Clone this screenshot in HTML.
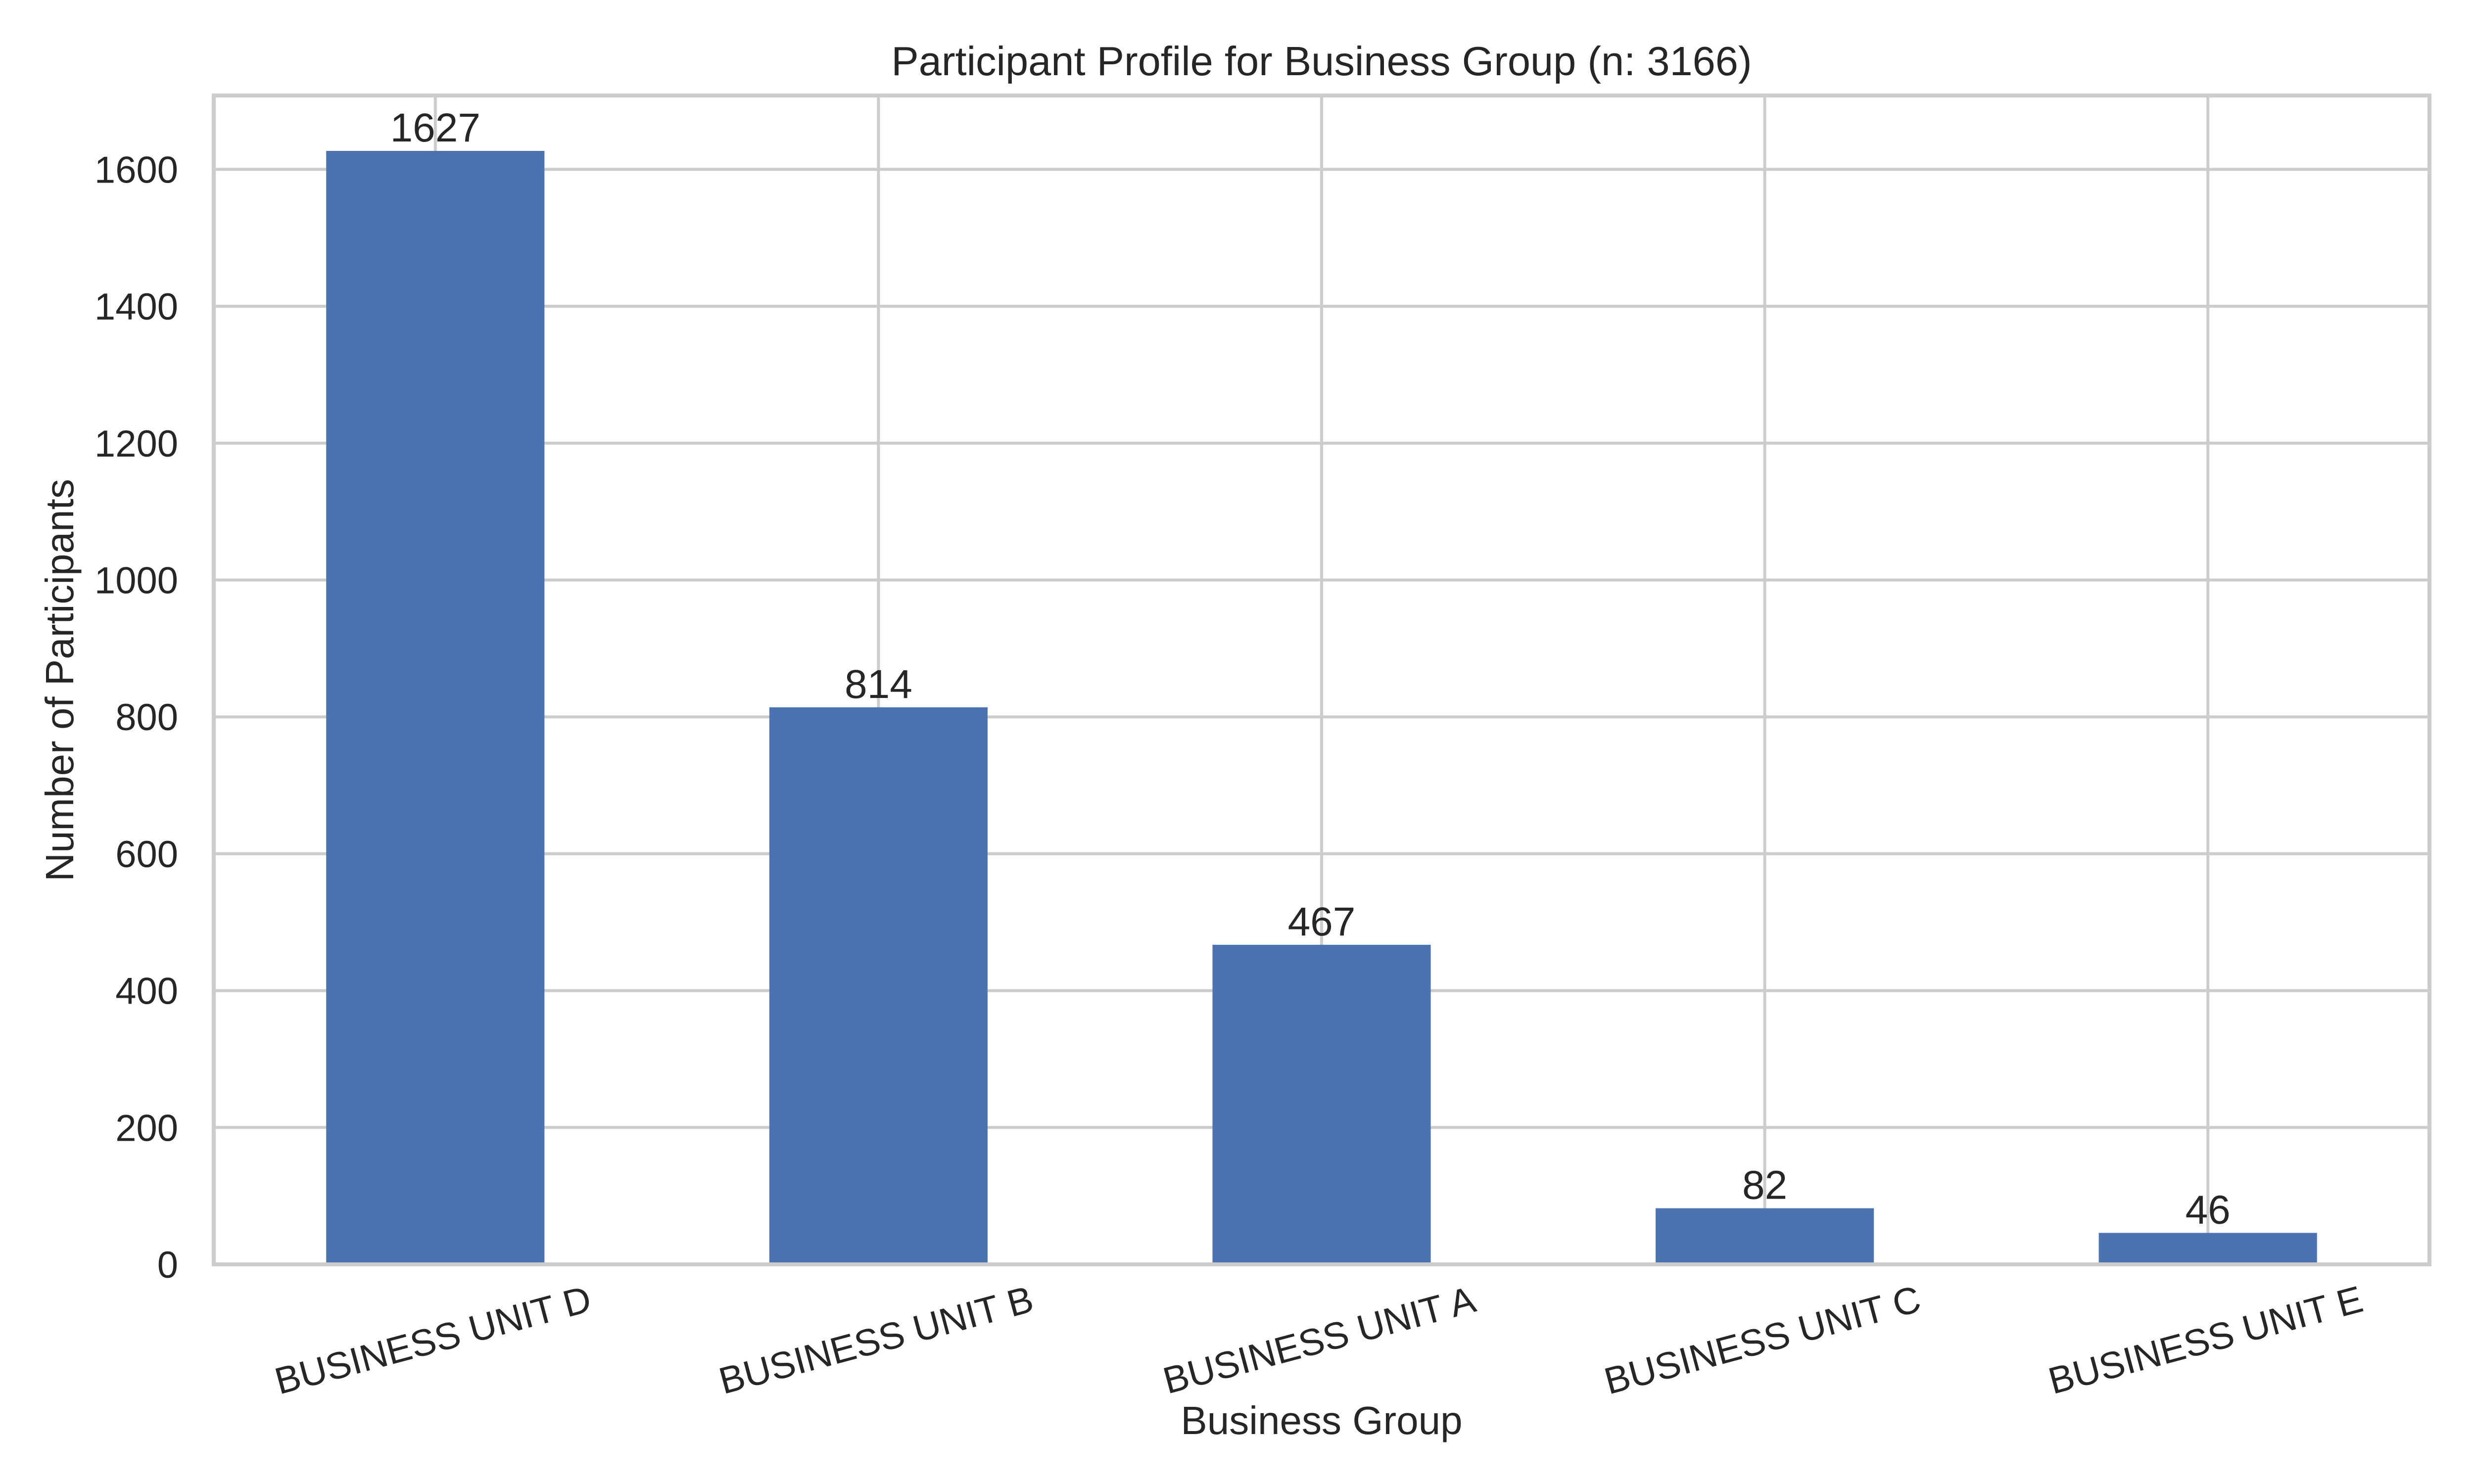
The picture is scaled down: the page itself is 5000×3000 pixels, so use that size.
<!DOCTYPE html>
<html><head><meta charset="utf-8"><style>
html,body{margin:0;padding:0;background:#fff}
svg{display:block}
text{font-family:"Liberation Sans",Arial,sans-serif;fill:#262626}
</style></head><body>
<svg id="chart" width="5000" height="3000" viewBox="0 0 5000 3000">
<rect x="0" y="0" width="5000" height="3000" fill="#fff"/>
<g id="grid"></g>
<g id="bars"></g>
<rect x="432" y="193" width="4478" height="2363" fill="none" stroke="#cccccc" stroke-width="8"/>
<g id="labels"></g>
<text x="2671" y="152" font-size="83" text-anchor="middle">Participant Profile for Business Group (n: 3166)</text>
<text x="2671" y="2899" font-size="80" text-anchor="middle">Business Group</text>
<text transform="translate(148,1375) rotate(-90)" x="0" y="0" font-size="80" text-anchor="middle">Number of Participants</text>
</svg>
<script>
const categories = ["BUSINESS UNIT D","BUSINESS UNIT B","BUSINESS UNIT A","BUSINESS UNIT C","BUSINESS UNIT E"];
const values = [1627, 814, 467, 82, 46];
const yTicks = [0, 200, 400, 600, 800, 1000, 1200, 1400, 1600];

const NS = "http://www.w3.org/2000/svg";
const plotL = 432, plotR = 4910, plotT = 193, plotB = 2556;
const yMax = 1708;
const n = categories.length;
const band = (plotR - plotL) / n;
function xScale(i){ return plotL + band * (i + 0.5); }
function yScale(v){ return plotB - (v / yMax) * (plotB - plotT); }
function mk(tag, attrs){ const e = document.createElementNS(NS, tag); for (const k in attrs) e.setAttribute(k, attrs[k]); return e; }

const grid = document.getElementById('grid');
const bars = document.getElementById('bars');
const labels = document.getElementById('labels');

yTicks.forEach(t => {
  const y = yScale(t);
  const l = mk('line', {x1: plotL, x2: plotR, y1: y, y2: y, stroke: '#cccccc', 'stroke-width': 6});
  
  
  grid.appendChild(l);
  const tx = mk('text', {x: 360, y: y + 27, 'font-size': 76, 'text-anchor': 'end'});
  tx.textContent = t;
  
  
  labels.appendChild(tx);
});

categories.forEach((c, i) => {
  const cx = xScale(i);
  const l = mk('line', {x1: cx, x2: cx, y1: plotT, y2: plotB, stroke: '#cccccc', 'stroke-width': 6});
  
  
  grid.appendChild(l);

  const w = band * 0.4925;
  const yTop = yScale(values[i]);
  const r = mk('rect', {x: cx - w / 2, y: yTop, width: w, height: plotB - yTop, fill: '#4c72b0'});
  
  
  bars.appendChild(r);

  const vt = mk('text', {x: cx, y: yTop - 19, 'font-size': 82, 'text-anchor': 'middle'});
  vt.textContent = values[i];
  
  
  labels.appendChild(vt);

  const xt = mk('text', {x: 0, y: 27, 'font-size': 76, 'text-anchor': 'middle', transform: `translate(${cx - 5},2708) rotate(-15)`});
  xt.textContent = c;
  
  
  labels.appendChild(xt);
});
</script>
</body></html>
